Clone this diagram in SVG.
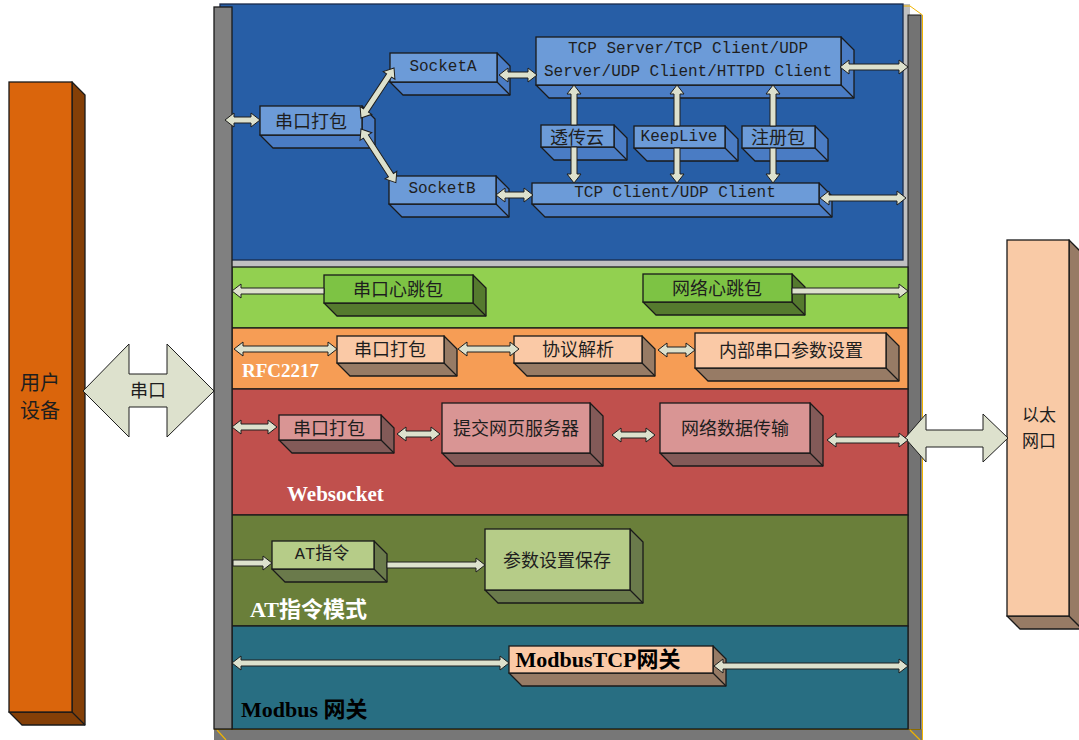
<svg xmlns="http://www.w3.org/2000/svg" width="1079" height="740" viewBox="0 0 1079 740">
<style>
.face{stroke:#1a1a1a;stroke-width:1.3}
.side{stroke:#1a1a1a;stroke-width:1.3;stroke-linejoin:round}
.edge{fill:none;stroke:#1a1a1a;stroke-width:1.3}
.bl .face{fill:#6C9BD8}.bl .side{fill:#4A7CC4}
.gr .face{fill:#7DC344}.gr .side{fill:#557A2E}
.pe .face{fill:#FAC9A6}.pe .side{fill:#977B65}
.rd .face{fill:#D99594}.rd .side{fill:#835A58}
.ol .face{fill:#B6CC88}.ol .side{fill:#6A7A4B}
.t{font-family:"Noto Sans CJK SC","Liberation Sans",sans-serif;font-size:18px;fill:#1e1e1e;text-anchor:middle;dominant-baseline:central}
.m{font-family:"Liberation Mono","Noto Sans CJK SC",monospace;font-size:16px;fill:#1e1e1e;text-anchor:middle;dominant-baseline:central}
.lbl{font-family:"Liberation Serif","Noto Sans CJK SC",serif;font-weight:bold;font-size:20px;fill:#ffffff}
.lblb{font-family:"Liberation Serif","Noto Sans CJK SC",serif;font-weight:bold;font-size:22px;fill:#000000}
.arr{fill:#DDE1CD;stroke:#1e1e1e;stroke-width:1;stroke-linejoin:miter}
.band{stroke:#1a1a1a;stroke-width:1.3}
</style>

<!-- frame -->
<g id="frame">
<rect x="220" y="4" width="690" height="264" fill="#C0C0C0"/>
<rect x="908" y="15" width="13" height="725" fill="#737373" stroke="#1a1a1a" stroke-width="1"/>
<line x1="922.5" y1="15" x2="922.5" y2="740" stroke="#F0B400" stroke-width="1"/>
<polyline points="903,6 910,6 922.5,15" fill="none" stroke="#F0B400" stroke-width="1"/>
<rect x="214" y="729" width="708" height="11" fill="#777777"/>
<line x1="214" y1="729.5" x2="921" y2="729.5" stroke="#8a6a00" stroke-width="1"/>
<line x1="217" y1="730" x2="226" y2="740" stroke="#F0B400" stroke-width="1.2"/>
<line x1="910" y1="730" x2="920" y2="740" stroke="#F0B400" stroke-width="1.2"/>
<rect x="220" y="4" width="683" height="256" fill="#275EA6" stroke="#1a2a4a" stroke-width="1.3"/>
<rect class="band" x="232" y="267" width="676" height="61" fill="#92D050"/>
<rect class="band" x="232" y="328" width="676" height="61" fill="#F69D55"/>
<rect class="band" x="232" y="389" width="676" height="126" fill="#C0504D"/>
<rect class="band" x="232" y="515" width="676" height="111" fill="#6A7F3A"/>
<rect class="band" x="232" y="626" width="676" height="103" fill="#286E82"/>
<rect x="214" y="7" width="18" height="722" fill="#808080" stroke="#1a1a1a" stroke-width="1.3"/>
<text class="lbl" x="242" y="377" style="font-size:19px">RFC2217</text>
<text class="lbl" x="287" y="501" style="font-size:21px">Websocket</text>
<text class="lblb" x="250" y="617" style="fill:#ffffff">AT指令模式</text>
<text class="lblb" x="241" y="717">Modbus 网关</text>
</g>

<!-- side devices -->
<g id="user-device">
<path d="M9,712 L72,712 L72,82 L85,95 L85,725 L22,725 Z" fill="#843F07" class="side"/>
<path d="M72,712 L85,725" class="edge"/>
<rect x="9" y="82" width="63" height="630" fill="#DA650C" class="face"/>
<text class="t" x="40" y="381" style="font-size:20px">用户</text>
<text class="t" x="40" y="409" style="font-size:20px">设备</text>
</g>
<g id="ethernet">
<path d="M1007,616 L1069,616 L1069,240 L1082,253 L1082,629 L1020,629 Z" fill="#977B65" class="side"/>
<path d="M1069,616 L1082,629" class="edge"/>
<rect x="1007" y="240" width="62" height="376" fill="#F9CAA6" class="face"/>
<text class="t" x="1039" y="413" style="font-size:17px">以太</text>
<text class="t" x="1039" y="439" style="font-size:17px">网口</text>
</g>

<!-- blue section -->
<g id="b-pack" class="bl">
<path class="side" d="M260,135 L362,135 L362,106 L375,119 L375,148 L273,148 Z"/><path class="edge" d="M362,135 L375,148"/>
<rect class="face" x="260" y="106" width="102" height="29"/>
<text class="t" x="311" y="120">串口打包</text>
</g>
<g id="b-socketa" class="bl">
<path class="side" d="M390,82 L497,82 L497,53 L510,66 L510,95 L403,95 Z"/><path class="edge" d="M497,82 L510,95"/>
<rect class="face" x="390" y="53" width="107" height="29"/>
<text class="m" x="443" y="67">SocketA</text>
</g>
<g id="b-socketb" class="bl">
<path class="side" d="M389,204 L496,204 L496,176 L509,189 L509,217 L402,217 Z"/><path class="edge" d="M496,204 L509,217"/>
<rect class="face" x="389" y="176" width="107" height="28"/>
<text class="m" x="442" y="189">SocketB</text>
</g>
<g id="b-tcpserver" class="bl">
<path class="side" d="M536,85 L841,85 L841,37 L854,50 L854,98 L549,98 Z"/><path class="edge" d="M841,85 L854,98"/>
<rect class="face" x="536" y="37" width="305" height="48"/>
<text class="m" x="688" y="49">TCP Server/TCP Client/UDP</text>
<text class="m" x="688" y="72">Server/UDP Client/HTTPD Client</text>
</g>
<g id="b-cloud" class="bl">
<path class="side" d="M541,147 L614,147 L614,125 L627,138 L627,160 L554,160 Z"/><path class="edge" d="M614,147 L627,160"/>
<rect class="face" x="541" y="125" width="73" height="22"/>
<text class="t" x="577" y="136">透传云</text>
</g>
<g id="b-keeplive" class="bl">
<path class="side" d="M634,148 L725,148 L725,126 L738,139 L738,161 L647,161 Z"/><path class="edge" d="M725,148 L738,161"/>
<rect class="face" x="634" y="126" width="91" height="22"/>
<text class="m" x="679" y="137">KeepLive</text>
</g>
<g id="b-reg" class="bl">
<path class="side" d="M742,148 L815,148 L815,126 L828,139 L828,161 L755,161 Z"/><path class="edge" d="M815,148 L828,161"/>
<rect class="face" x="742" y="126" width="73" height="22"/>
<text class="t" x="778" y="136">注册包</text>
</g>
<g id="b-tcpclient" class="bl">
<path class="side" d="M532,204 L819,204 L819,183 L832,196 L832,217 L545,217 Z"/><path class="edge" d="M819,204 L832,217"/>
<rect class="face" x="532" y="183" width="287" height="21"/>
<text class="m" x="675" y="193">TCP Client/UDP Client</text>
</g>

<!-- green -->
<g id="g-serial-hb" class="gr">
<path class="side" d="M324,303 L473,303 L473,275 L486,288 L486,316 L337,316 Z"/><path class="edge" d="M473,303 L486,316"/>
<rect class="face" x="324" y="275" width="149" height="28"/>
<text class="t" x="398" y="288">串口心跳包</text>
</g>
<g id="g-net-hb" class="gr">
<path class="side" d="M643,302 L792,302 L792,274 L805,287 L805,315 L656,315 Z"/><path class="edge" d="M792,302 L805,315"/>
<rect class="face" x="643" y="274" width="149" height="28"/>
<text class="t" x="717" y="287">网络心跳包</text>
</g>

<!-- orange -->
<g id="o-pack" class="pe">
<path class="side" d="M337,363 L444,363 L444,336 L457,349 L457,376 L350,376 Z"/><path class="edge" d="M444,363 L457,376"/>
<rect class="face" x="337" y="336" width="107" height="27"/>
<text class="t" x="390" y="348">串口打包</text>
</g>
<g id="o-parse" class="pe">
<path class="side" d="M514,363 L642,363 L642,336 L655,349 L655,376 L527,376 Z"/><path class="edge" d="M642,363 L655,376"/>
<rect class="face" x="514" y="336" width="128" height="27"/>
<text class="t" x="578" y="348">协议解析</text>
</g>
<g id="o-param" class="pe">
<path class="side" d="M695,368 L886,368 L886,333 L899,346 L899,381 L708,381 Z"/><path class="edge" d="M886,368 L899,381"/>
<rect class="face" x="695" y="333" width="191" height="35"/>
<text class="t" x="791" y="349">内部串口参数设置</text>
</g>

<!-- red -->
<g id="r-pack" class="rd">
<path class="side" d="M279,440 L381,440 L381,415 L394,428 L394,453 L292,453 Z"/><path class="edge" d="M381,440 L394,453"/>
<rect class="face" x="279" y="415" width="102" height="25"/>
<text class="t" x="329" y="427">串口打包</text>
</g>
<g id="r-web" class="rd">
<path class="side" d="M442,453 L590,453 L590,403 L603,416 L603,466 L455,466 Z"/><path class="edge" d="M590,453 L603,466"/>
<rect class="face" x="442" y="403" width="148" height="50"/>
<text class="t" x="516" y="427">提交网页服务器</text>
</g>
<g id="r-net" class="rd">
<path class="side" d="M660,453 L810,453 L810,403 L823,416 L823,466 L673,466 Z"/><path class="edge" d="M810,453 L823,466"/>
<rect class="face" x="660" y="403" width="150" height="50"/>
<text class="t" x="735" y="427">网络数据传输</text>
</g>

<!-- olive -->
<g id="a-at" class="ol">
<path class="side" d="M272,569 L374,569 L374,541 L387,554 L387,582 L285,582 Z"/><path class="edge" d="M374,569 L387,582"/>
<rect class="face" x="272" y="541" width="102" height="28"/>
<text class="m" x="322" y="554" style="font-size:17px">AT指令</text>
</g>
<g id="a-save" class="ol">
<path class="side" d="M485,590 L630,590 L630,529 L643,542 L643,603 L498,603 Z"/><path class="edge" d="M630,590 L643,603"/>
<rect class="face" x="485" y="529" width="145" height="61"/>
<text class="t" x="557" y="559">参数设置保存</text>
</g>

<!-- teal -->
<g id="m-gw" class="pe">
<path class="side" d="M509,673 L713,673 L713,646 L726,659 L726,686 L522,686 Z"/><path class="edge" d="M713,673 L726,686"/>
<rect class="face" x="509" y="646" width="204" height="27"/>
<text class="lblb" x="598" y="667" text-anchor="middle">ModbusTCP网关</text>
</g>

<!-- connectors -->
<g id="connectors">
<polygon class="arr" points="83,391 129,344 129,374 167,374 167,344 214,391 167,437 167,407 129,407 129,437"/>
<text class="t" x="148" y="389">串口</text>
<polygon class="arr" points="905,438 926,414 926,430 983,430 983,414 1008,438 983,462 983,447 926,447 926,462"/>

<polygon class="arr" transform="translate(225,120)" points="0,0 9,-7 9,-3 26,-3 26,-7 35,0 26,7 26,3 9,3 9,7"/>
<polygon class="arr" transform="translate(361,118) rotate(-56.6)" points="0,0 9,-7 9,-3 51,-3 51,-7 60,0 51,7 51,3 9,3 9,7"/>
<polygon class="arr" transform="translate(361,129) rotate(57)" points="0,0 9,-7 9,-3 55,-3 55,-7 64,0 55,7 55,3 9,3 9,7"/>
<polygon class="arr" transform="translate(499,75)" points="0,0 9,-7 9,-3 29,-3 29,-7 38,0 29,7 29,3 9,3 9,7"/>
<polygon class="arr" transform="translate(496,195)" points="0,0 9,-7 9,-3 28,-3 28,-7 37,0 28,7 28,3 9,3 9,7"/>
<polygon class="arr" transform="translate(840,67)" points="0,0 9,-7 9,-3 59,-3 59,-7 68,0 59,7 59,3 9,3 9,7"/>
<polygon class="arr" transform="translate(820,198)" points="0,0 9,-7 9,-3 77,-3 77,-7 86,0 77,7 77,3 9,3 9,7"/>

<polygon class="arr" transform="translate(574,125) rotate(-90)" points="0,-3 31,-3 31,-7 40,0 31,7 31,3 0,3"/>
<polygon class="arr" transform="translate(574,147) rotate(90)" points="0,-3 27,-3 27,-7 36,0 27,7 27,3 0,3"/>
<polygon class="arr" transform="translate(677,126) rotate(-90)" points="0,-3 32,-3 32,-7 41,0 32,7 32,3 0,3"/>
<polygon class="arr" transform="translate(677,148) rotate(90)" points="0,-3 26,-3 26,-7 35,0 26,7 26,3 0,3"/>
<polygon class="arr" transform="translate(773,126) rotate(-90)" points="0,-3 32,-3 32,-7 41,0 32,7 32,3 0,3"/>
<polygon class="arr" transform="translate(773,148) rotate(90)" points="0,-3 26,-3 26,-7 35,0 26,7 26,3 0,3"/>

<polygon class="arr" transform="translate(324,291) rotate(180)" points="0,-3 83,-3 83,-7 92,0 83,7 83,3 0,3"/>
<polygon class="arr" transform="translate(792,291)" points="0,-3 107,-3 107,-7 116,0 107,7 107,3 0,3"/>

<polygon class="arr" transform="translate(234,349)" points="0,0 9,-7 9,-3 94,-3 94,-7 103,0 94,7 94,3 9,3 9,7"/>
<polygon class="arr" transform="translate(458,349)" points="0,0 9,-7 9,-3 52,-3 52,-7 61,0 52,7 52,3 9,3 9,7"/>
<polygon class="arr" transform="translate(658,350)" points="0,0 9,-7 9,-3 28,-3 28,-7 37,0 28,7 28,3 9,3 9,7"/>

<polygon class="arr" transform="translate(232,427)" points="0,0 9,-7 9,-3 36,-3 36,-7 45,0 36,7 36,3 9,3 9,7"/>
<polygon class="arr" transform="translate(397,434)" points="0,0 9,-7 9,-3 34,-3 34,-7 43,0 34,7 34,3 9,3 9,7"/>
<polygon class="arr" transform="translate(612,435)" points="0,0 9,-7 9,-3 34,-3 34,-7 43,0 34,7 34,3 9,3 9,7"/>
<polygon class="arr" transform="translate(827,440)" points="0,0 9,-7 9,-3 72,-3 72,-7 81,0 72,7 72,3 9,3 9,7"/>

<polygon class="arr" transform="translate(233,563)" points="0,-3 30,-3 30,-7 39,0 30,7 30,3 0,3"/>
<polygon class="arr" transform="translate(387,565)" points="0,-3 89,-3 89,-7 98,0 89,7 89,3 0,3"/>

<polygon class="arr" transform="translate(232,663)" points="0,0 9,-7 9,-3 268,-3 268,-7 277,0 268,7 268,3 9,3 9,7"/>
<polygon class="arr" transform="translate(714,666)" points="0,0 9,-7 9,-3 185,-3 185,-7 194,0 185,7 185,3 9,3 9,7"/>
</g>
</svg>
